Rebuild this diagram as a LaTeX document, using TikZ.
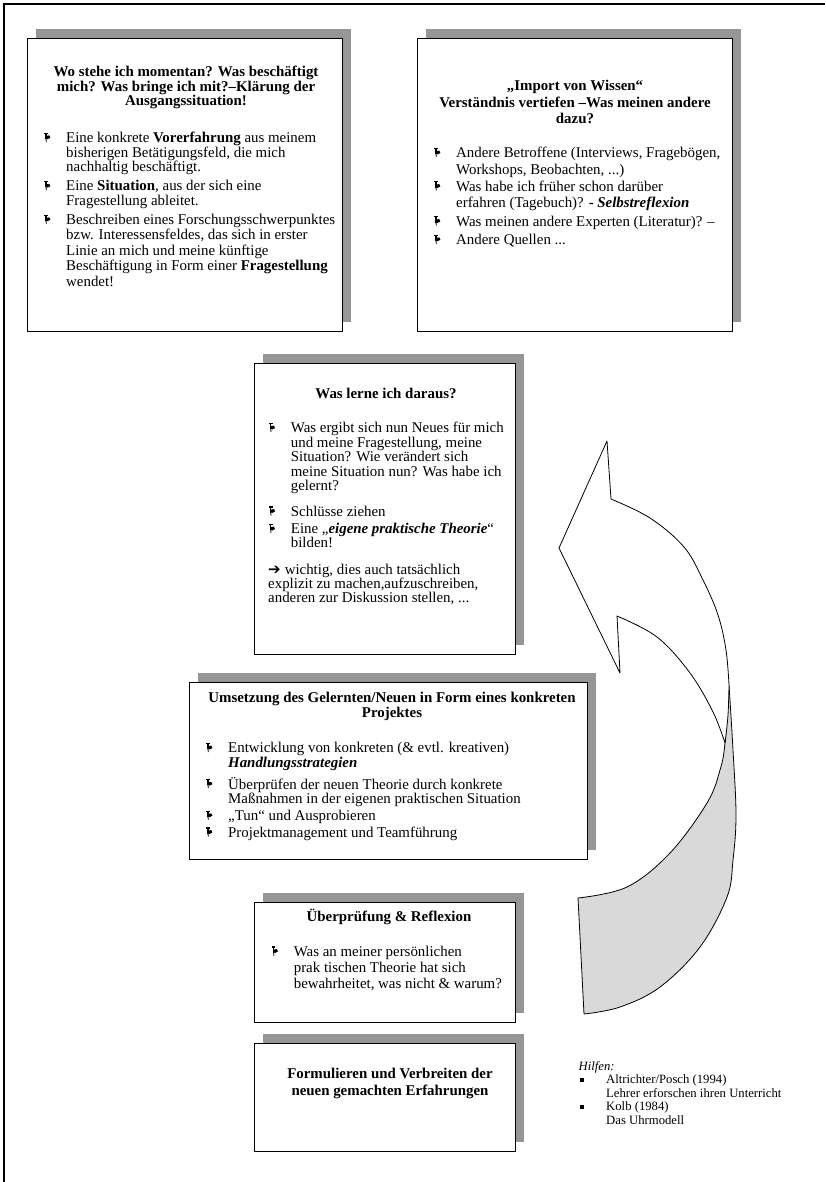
\documentclass[tikz,border=0pt]{standalone}
\usepackage{fontspec}
\setmainfont{Liberation Serif}
\newfontfamily\djv{DejaVu Sans}
\usetikzlibrary{backgrounds}
\definecolor{shadowgray}{HTML}{969696}
\definecolor{arrowgray}{HTML}{D9D9D9}
\tikzset{
  panel/.style={draw=black, line width=0.9pt, fill=white, inner sep=0pt, outer sep=0pt},
  ttl/.style={font=\fontsize{14.9}{#1}\selectfont\bfseries, align=center, inner sep=0pt, anchor=base},
  ttl/.default=15,
  body/.style={font=\fontsize{14.9}{#1}\selectfont, align=left, inner sep=0pt, anchor=base west},
  body/.default=15,
  hilf/.style={font=\fontsize{12.7}{13.3}\selectfont, align=left, inner sep=0pt, anchor=base west},
  arrowline/.style={draw=black, line width=0.8pt, line join=round},
  tack/.pic={
    \fill (0.4,-9.8) rectangle (3.8,-8.7);
    \fill (1.3,-8.9) rectangle (2.6,-3.6);
    \fill (2.4,-6.6) -- (5.2,-7.2) -- (6.4,-4.8) -- (3.6,-3.3) -- (2.4,-3.6) -- cycle;
    \draw[line width=0.8pt] (2.0,-3.8) -- (2.3,-0.6);
  }
}
\begin{document}
\begin{tikzpicture}[x=1pt,y=-1pt]
\useasboundingbox (0,0) rectangle (825,1182);
% outer frame
\draw[line width=1.5pt] (4,1182) -- (4,4) -- (825,4);

% panels
\node[panel, minimum width=315pt, minimum height=293pt] (b1) at (184.5,184.5) {};
\node[panel, minimum width=315pt, minimum height=293pt] (b2) at (574.5,184.5) {};
\node[panel, minimum width=261pt, minimum height=291pt] (b3) at (384.5,508.5) {};
\node[panel, minimum width=398pt, minimum height=177pt] (b4) at (388,770.5) {};
\node[panel, minimum width=261pt, minimum height=120pt] (b5) at (384.5,962) {};
\node[panel, minimum width=261pt, minimum height=108pt] (b6) at (384.5,1097) {};
\begin{scope}[on background layer]
  \foreach \b in {b1,b2,b3,b4,b5,b6}
    \fill[shadowgray] ([shift={(9,-9)}]\b.south west) rectangle ([shift={(9,-9)}]\b.north east);
\end{scope}

% (multi-line nodes are placed at the baseline of their last line)
% box 1
\node[ttl=14.5] (t1) at (186,106) {Wo stehe ich momentan? Was beschäftigt\\mich? Was bringe ich mit?–Klärung der\\Ausgangssituation!};
\pic at (44,142.5) {tack};
\node[body=14.6] (i11) at (66,171.7) {Eine konkrete \textbf{Vorerfahrung} aus meinem\\bisherigen Betätigungsfeld, die mich\\nachhaltig beschäftigt.};
\pic at (44,191) {tack};
\node[body=15] (i12) at (66,206) {Eine \textbf{Situation}, aus der sich eine\\Fragestellung ableitet.};
\pic at (44,224.5) {tack};
\node[body=15.4] (i13) at (66,286.1) {Beschreiben eines Forschungsschwerpunktes\\bzw. Interessensfeldes, das sich in erster\\Linie an mich und meine künftige\\Beschäftigung in Form einer \textbf{Fragestellung}\\wendet!};

% box 2
\node[ttl=16.3] (t2) at (575,123.6) {„Import von Wissen“\\Verständnis vertiefen –Was meinen andere\\dazu?};
\pic at (434,157.8) {tack};
\node[body=16.7] (i21) at (456,174.5) {Andere Betroffene (Interviews, Fragebögen,\\Workshops, Beobachten, ...)};
\pic at (434,191.2) {tack};
\node[body=16.7] (i22) at (456,207.9) {Was habe ich früher schon darüber\\erfahren (Tagebuch)? \textbf{- \textit{Selbstreflexion}}};
\pic at (434,226.2) {tack};
\node[body] (i23) at (456,226.2) {Was meinen andere Experten (Literatur)? –};
\pic at (434,244.5) {tack};
\node[body] (i24) at (456,244.5) {Andere Quellen ...};

% box 3
\node[ttl] (t3) at (386,398.5) {Was lerne ich daraus?};
\pic at (268.7,432.8) {tack};
\node[body=14.4] (i31) at (290.7,490.4) {Was ergibt sich nun Neues für mich\\und meine Fragestellung, meine\\Situation? Wie verändert sich\\meine Situation nun? Was habe ich\\gelernt?};
\pic at (268.7,516.2) {tack};
\node[body] (i32) at (290.7,516.2) {Schlüsse ziehen};
\pic at (268.7,533.8) {tack};
\node[body=14] (i33) at (290.7,547.8) {Eine „\textbf{\textit{eigene praktische Theorie}}“\\bilden!};
\node[body=14.2] (i34) at (268,602.9) {{\djv\fontsize{15}{15}\selectfont ➔}\kern4pt wichtig, dies auch tatsächlich\\explizit zu machen,aufzuschreiben,\\anderen zur Diskussion stellen, ...};

% box 4
\node[ttl=15] (t4) at (392,717.8) {Umsetzung des Gelernten/Neuen in Form eines konkreten\\Projektes};
\pic at (206,752.8) {tack};
\node[body=15] (i41) at (228,767.8) {Entwicklung von konkreten (\& evtl. kreativen)\\\textbf{\textit{Handlungsstrategien}}};
\pic at (206,789) {tack};
\node[body=14.5] (i42) at (228,803.5) {Überprüfen der neuen Theorie durch konkrete\\Maßnahmen in der eigenen praktischen Situation};
\pic at (206,820.5) {tack};
\node[body] (i43) at (228,820.5) {„Tun“ und Ausprobieren};
\pic at (206,837.2) {tack};
\node[body] (i44) at (228,837.2) {Projektmanagement und Teamführung};

% box 5
\node[ttl] (t5) at (389,921.5) {Überprüfung \& Reflexion};
\pic at (271.6,956.2) {tack};
\node[body=16.3] (i51) at (293.6,988.8) {Was an meiner persönlichen\\prak tischen Theorie hat sich\\bewahrheitet, was nicht \& warum?};

% box 6
\node[ttl=17] (t6) at (390,1095.5) {Formulieren und Verbreiten der\\neuen gemachten Erfahrungen};

% Hilfen
\node[hilf] (h0) at (578.5,1070.5) {\itshape Hilfen:};
\fill (580.2,1078.3) rectangle (583.9,1081.6);
\node[hilf] (h1) at (606,1097.1) {Altrichter/Posch (1994)\\Lehrer erforschen ihren Unterricht};
\fill (580.2,1105.3) rectangle (583.9,1108.6);
\node[hilf] (h2) at (606,1124.1) {Kolb (1984)\\Das Uhrmodell};

% curved arrow: back face
\draw[arrowline, fill=arrowgray]
  plot[smooth, tension=0.6] coordinates {(729,685) (733,750) (736,815) (733,860) (727,897) (700,947) (660,987) (620,1007) (584,1014)}
  -- (578,898)
  -- plot[smooth, tension=0.6] coordinates {(578,898) (627,887) (670,853) (707,803) (720,770) (725,743) (729,685)}
  -- cycle;
% front face with head
\draw[arrowline, fill=white]
  (559,548) -- (607,441) -- (611,499)
  -- plot[smooth, tension=0.6] coordinates {(611,499) (650,518) (684,547) (703,580) (718,615) (726,650) (729,685)}
  -- plot[smooth, tension=0.6] coordinates {(729,685) (728,715) (725,743)}
  -- plot[smooth, tension=0.6] coordinates {(725,743) (713,712) (690,673) (657,637) (617,616)}
  -- (620,673) -- cycle;
\end{tikzpicture}
\end{document}
